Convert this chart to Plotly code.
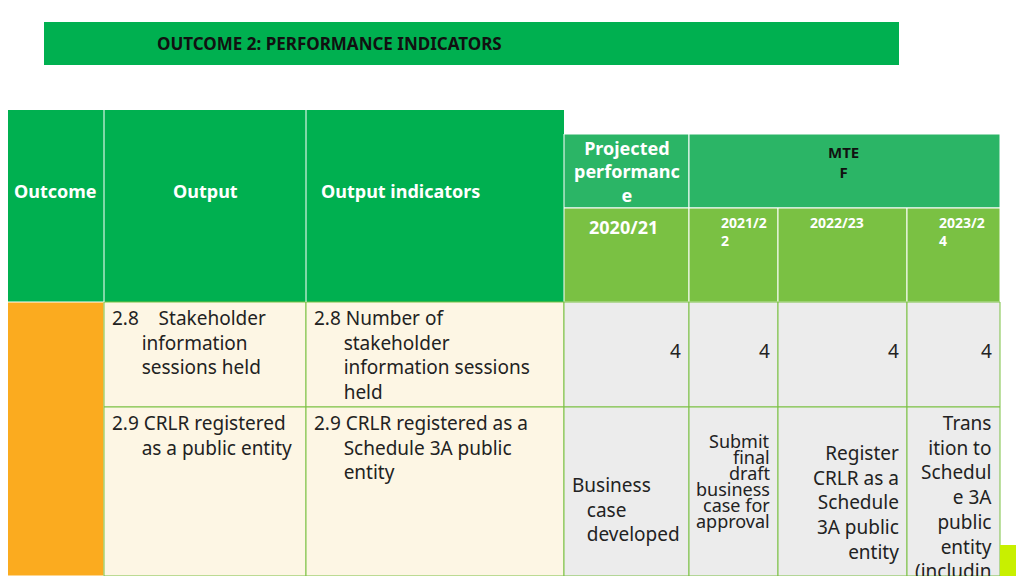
import plotly.graph_objects as go

# ------------------------------- Datos -------------------------------
titulo = "OUTCOME 2: PERFORMANCE INDICATORS"
encabezados = ["Outcome", "Output", "Output indicators"]
proyectado = "Projected<br>performanc<br>e"
mtef = "MTE<br>F"
anios = ["2020/21", "2021/2<br>2", "2022/23", "2023/2<br>4"]
outcome = "<b>2.</b><br>Improved<br>governan<br>ce and<br>service<br>excellenc"
outputs = ["2.8    Stakeholder<br>      information<br>      sessions held",
           "2.9 CRLR registered<br>      as a public entity"]
indicadores = ["2.8 Number of<br>      stakeholder<br>      information sessions<br>      held",
               "2.9 CRLR registered as a<br>      Schedule 3A public<br>      entity"]
metas_fila1 = ["4", "4", "4", "4"]
metas_fila2 = ["Business<br>   case<br>   developed",
               ["Submit", "final", "draft", "business", "case for", "approval"],
               "Register<br>CRLR as a<br>Schedule<br>3A public<br>entity",
               "Trans<br>ition to<br>Schedul<br>e 3A<br>public<br>entity<br>(includin"]

# ------------------------------- Geometria -------------------------------
VERDE = "#00b050"
VERDE2 = "#2bb566"
VERDE_CLARO = "#7ac143"
NARANJA = "#fbab1f"
CREMA = "#fdf6e4"
GRIS = "#ececec"
FUENTE = "Noto Sans"
DESFASE = 8  # margen del body de la pagina

col_x = [564, 689, 778, 907, 1000]
fila_y = [302, 407, 576]

shapes = []
annots = []


def rect(x0, y0, x1, y1, color, line=None, w=1):
    shapes.append(dict(type="rect", xref="x", yref="y", x0=x0, y0=y0, x1=x1, y1=y1,
                       fillcolor=color, line=dict(color=line or color, width=w if line else 0),
                       layer="below"))


def texto(x, y, t, size=19, color="#222", xanchor="left", yanchor="top", bold=False):
    if bold:
        t = "<b>" + t + "</b>"
    annots.append(dict(x=x, y=y, xref="x", yref="y", text=t, showarrow=False,
                       xanchor=xanchor, yanchor=yanchor, align=xanchor if xanchor != "center" else "center",
                       font=dict(family=FUENTE, size=size, color=color)))


# Barra de titulo
rect(44, 22, 899, 65, VERDE)
texto(155, 43, titulo, size=17, color="#111", yanchor="middle", bold=True)

# Encabezado
rect(0, 110, 564, 302, VERDE)
for x in [104, 306]:
    shapes.append(dict(type="line", xref="x", yref="y", x0=x, x1=x, y0=110, y1=302,
                       line=dict(color="white", width=1)))
texto(12, 191, encabezados[0], size=18, color="white", yanchor="middle", bold=True)
texto(205, 191, encabezados[1], size=18, color="white", xanchor="center", yanchor="middle", bold=True)
texto(319, 191, encabezados[2], size=18, color="white", yanchor="middle", bold=True)

rect(564, 134, 689, 208, VERDE2, "white")
rect(689, 134, 1000, 208, VERDE2, "white")
texto(627, 134, proyectado, size=18, color="white", xanchor="center", bold=True)
texto(843, 140, mtef, size=15, color="#111", xanchor="center", bold=True)

for i, a in enumerate(anios):
    rect(col_x[i], 208, col_x[i + 1], 302, VERDE_CLARO, "white")
    if i == 0:
        texto(623, 213, a, size=18, color="white", xanchor="center", bold=True)
    else:
        texto(col_x[i] + 30, 211, a, size=14, color="white", bold=True)

# Columna outcome
rect(0, 302, 104, 576, NARANJA, "white")
texto(5, 418, outcome, size=19, color="white")

# Filas de datos
for r in range(2):
    y0, y1 = fila_y[r], fila_y[r + 1]
    rect(104, y0, 306, y1, CREMA, VERDE_CLARO)
    rect(306, y0, 564, y1, CREMA, VERDE_CLARO)
    for i in range(4):
        rect(col_x[i], y0, col_x[i + 1], y1, GRIS, VERDE_CLARO)
    texto(110, y0 + 1, outputs[r])
    texto(312, y0 + 1, indicadores[r])

for i, v in enumerate(metas_fila1):
    texto(col_x[i + 1] - 6, 351, v, xanchor="right", yanchor="middle")

texto(570, 470, metas_fila2[0])
for k, linea in enumerate(metas_fila2[1]):
    texto(772, 441 + 16 * k, linea, size=18, xanchor="right", yanchor="middle")
texto(901, 438, metas_fila2[2], xanchor="right")
texto(994, 408, metas_fila2[3], xanchor="right")

rect(1000, 545, 1024, 576, "#c8f000")

fig = go.Figure()
fig.update_layout(
    width=1024, height=576,
    margin=dict(l=0, r=0, t=0, b=0),
    plot_bgcolor="white", paper_bgcolor="white",
    xaxis=dict(range=[DESFASE, 1024 + DESFASE], visible=False, fixedrange=True),
    yaxis=dict(range=[576 + DESFASE, DESFASE], visible=False, fixedrange=True),
    shapes=shapes, annotations=annots, showlegend=False)
fig.write_html("out.html")
